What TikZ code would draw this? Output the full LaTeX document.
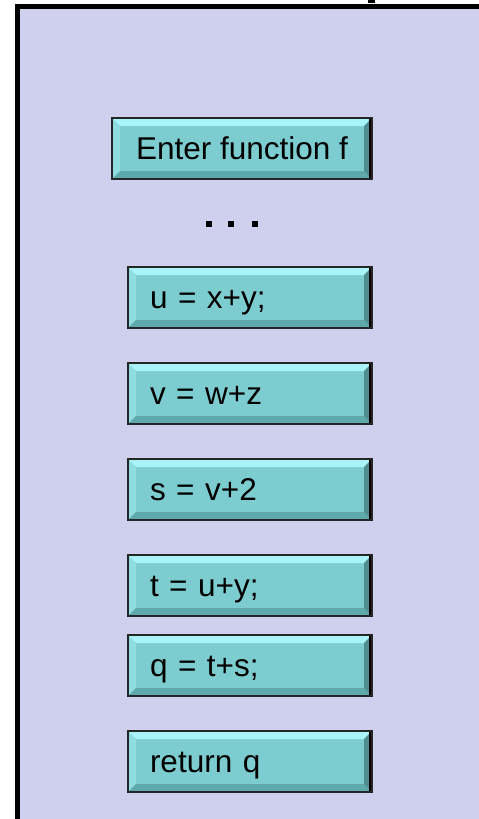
\documentclass[tikz,border=0pt]{standalone}
\usepackage{fontspec}
\setmainfont{Liberation Sans}
\definecolor{lav}{HTML}{CFCFEE}
\definecolor{boxc}{HTML}{7DCDD0}
\definecolor{bevT}{HTML}{A8F4F8}
\definecolor{bevL}{HTML}{90DDE0}
\definecolor{bevB}{HTML}{5EA9AB}
\definecolor{bevR}{HTML}{4E8E90}
\tikzset{
  cbox/.style={draw=black!85, line width=1.6pt, fill=boxc, minimum height=61pt,
    inner sep=0pt, text height=23pt, text depth=2pt, font=\fontsize{31.5}{36}\selectfont,
    path picture={
      \coordinate (NW) at (path picture bounding box.north west);
      \coordinate (NE) at (path picture bounding box.north east);
      \coordinate (SW) at (path picture bounding box.south west);
      \coordinate (SE) at (path picture bounding box.south east);
      \fill[bevT] (NW) -- (NE) -- ([shift={(-8pt,-8pt)}]NE) -- ([shift={(8pt,-8pt)}]NW) -- cycle;
      \fill[bevL] (NW) -- (SW) -- ([shift={(8pt,8pt)}]SW) -- ([shift={(8pt,-8pt)}]NW) -- cycle;
      \fill[bevB] (SW) -- (SE) -- ([shift={(-8pt,8pt)}]SE) -- ([shift={(8pt,8pt)}]SW) -- cycle;
      \fill[bevR] (NE) -- (SE) -- ([shift={(-8pt,8pt)}]SE) -- ([shift={(-8pt,-8pt)}]NE) -- cycle;
      \fill[black] ([xshift=-3pt]NE) rectangle (SE);
    }},
  stmt/.style={cbox, minimum width=244pt, text width=200pt, align=left, inner xsep=22pt},
  entry/.style={cbox, minimum width=260pt, align=center},
  dot/.style={fill=black, minimum size=6pt, inner sep=0pt}
}
\begin{document}
\begin{tikzpicture}[x=1pt,y=-1pt]
\useasboundingbox (0,0) rectangle (479,819);
\clip (0,0) rectangle (479,819);
\draw[line width=5pt, fill=lav] (17.5,6.5) rectangle (510,850);
\fill[black] (368,-1) rectangle (375,2.5);
\node[entry] (enter) at (242,148.5) {Enter function f};
\node[dot] (d1) at (208.5,223.5) {};
\node[dot] (d2) at (230.5,223.5) {};
\node[dot] (d3) at (254.5,223.5) {};
\node[stmt] (u) at (250,297.5) {u = x+y;};
\node[stmt] (v) at (250,393.5) {v = w+z};
\node[stmt] (s) at (250,489.5) {s = v+2};
\node[stmt] (t) at (250,585.5) {t = u+y;};
\node[stmt] (q) at (250,665.5) {q = t+s;};
\node[stmt] (r) at (250,761.5) {return q};
\end{tikzpicture}
\end{document}
